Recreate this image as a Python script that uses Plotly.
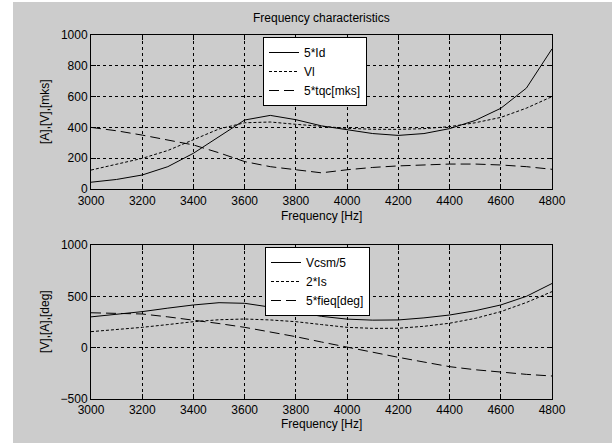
import plotly.graph_objects as go

# ---- data ----
freq = [3000, 3100, 3200, 3300, 3400, 3500, 3600, 3700, 3800, 3900,
        4000, 4100, 4200, 4300, 4400, 4500, 4600, 4700, 4800]

id5 = [44, 62, 91, 145, 232, 340, 448, 478, 450, 410,
       383, 360, 348, 360, 392, 445, 524, 655, 910]
vl = [123, 160, 199, 250, 318, 390, 430, 435, 420, 405,
      394, 388, 387, 392, 405, 430, 465, 525, 600]
tqc5 = [400, 378, 350, 320, 286, 235, 178, 145, 123, 105,
        125, 140, 150, 157, 162, 162, 156, 145, 128]

vcsm5 = [300, 325, 351, 385, 416, 438, 432, 395, 351, 305,
         278, 268, 270, 290, 318, 360, 416, 500, 625]
is2 = [156, 175, 198, 225, 253, 272, 279, 270, 253, 225,
       198, 188, 189, 208, 238, 285, 351, 440, 546]
fieq5 = [340, 335, 328, 300, 270, 235, 198, 155, 107, 55,
         4, -48, -94, -140, -185, -215, -240, -260, -276]

names_top = ["5*Id", "Vl", "5*tqc[mks]"]
names_bot = ["Vcsm/5", "2*Is", "5*fieq[deg]"]
xticks = [3000, 3200, 3400, 3600, 3800, 4000, 4200, 4400, 4600, 4800]
yticks_top = [0, 200, 400, 600, 800, 1000]
yticks_bot = [-500, 0, 500, 1000]

W, H = 612, 443
FONT = "Liberation Sans, Arial, sans-serif"
SOLID, SHORT, LONG = "solid", "3px,2px", "10px,5px"

fig = go.Figure()
for ys, nm, dash in zip([id5, vl, tqc5], names_top, [SOLID, SHORT, LONG]):
    fig.add_trace(go.Scatter(x=freq, y=ys, name=nm, mode="lines",
                             line=dict(color="black", width=1, dash=dash),
                             xaxis="x", yaxis="y", legend="legend"))
for ys, nm, dash in zip([vcsm5, is2, fieq5], names_bot, [SOLID, SHORT, LONG]):
    fig.add_trace(go.Scatter(x=freq, y=ys, name=nm, mode="lines",
                             line=dict(color="black", width=1, dash=dash),
                             xaxis="x2", yaxis="y2", legend="legend2"))

x0, x1 = 91 / W, 552 / W
top_dom = [1 - 189 / H, 1 - 35 / H]
bot_dom = [1 - 399 / H, 1 - 245 / H]

axcommon = dict(showline=True, linecolor="black", linewidth=1, mirror="ticks",
                ticks="inside", ticklen=5, tickcolor="black",
                showgrid=True, gridcolor="black", gridwidth=1, griddash="3px,3px",
                zeroline=False, tickfont=dict(family=FONT, size=12, color="black"),
                automargin=False)


def ann(text, x, y, angle=0):
    return dict(text=text, xref="paper", yref="paper", x=x / W, y=1 - y / H,
                showarrow=False, xanchor="center", yanchor="middle", textangle=angle,
                font=dict(family=FONT, size=12, color="black"))


fig.update_layout(
    width=W, height=H,
    margin=dict(l=0, r=0, t=0, b=0),
    paper_bgcolor="white", plot_bgcolor="white",
    font=dict(family=FONT, size=12, color="black"),
    xaxis=dict(domain=[x0, x1], range=[3000, 4800], tickvals=xticks, anchor="y",
               ticklabelstandoff=1, **axcommon),
    yaxis=dict(domain=top_dom, range=[0, 1000], tickvals=yticks_top, anchor="x", **axcommon),
    xaxis2=dict(domain=[x0, x1], range=[3000, 4800], tickvals=xticks, anchor="y2",
                ticklabelstandoff=0, **axcommon),
    yaxis2=dict(domain=bot_dom, range=[-500, 1000], tickvals=yticks_bot, anchor="x2", **axcommon),
    legend=dict(x=263 / W, y=1 - 37 / H, xanchor="left", yanchor="top",
                bgcolor="white", bordercolor="black", borderwidth=1,
                font=dict(family=FONT, size=12), tracegroupgap=0),
    legend2=dict(x=265 / W, y=1 - 247 / H, xanchor="left", yanchor="top",
                 bgcolor="white", bordercolor="black", borderwidth=1,
                 font=dict(family=FONT, size=12), tracegroupgap=0),
    shapes=[dict(type="rect", xref="paper", yref="paper", layer="below",
                 x0=13 / W, x1=1.0, y0=0, y1=1 - 2 / H,
                 fillcolor="#cccccc", line=dict(width=0))],
    annotations=[
        ann("Frequency characteristics", 321, 18),
        ann("Frequency [Hz]", 321, 216),
        ann("Frequency [Hz]", 321, 424),
        ann("[A],[V],[mks]", 45, 112, -90),
        ann("[V],[A],[deg]", 45, 322, -90),
    ],
)

fig.write_html("out.html", config={"displayModeBar": False},
               post_script="document.body.style.margin='0';document.body.style.padding='0';")
